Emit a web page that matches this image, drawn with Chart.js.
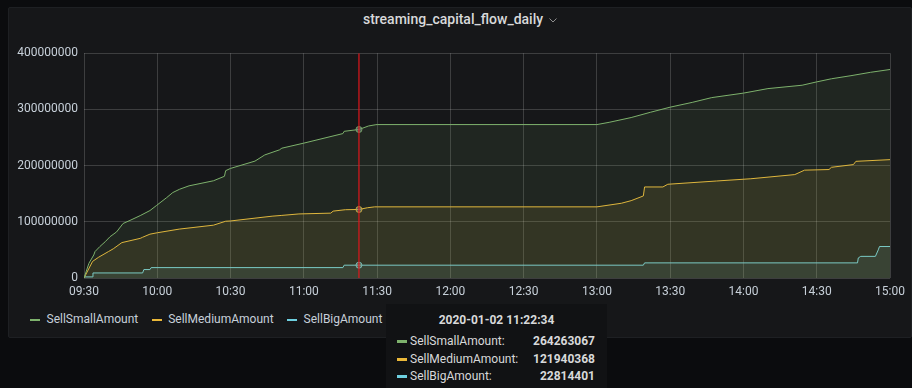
<!DOCTYPE html>
<html>
<head>
<meta charset="utf-8">
<script src="https://cdn.jsdelivr.net/npm/chart.js@4.4.1/dist/chart.umd.min.js"></script>
<style>
  html, body { margin:0; padding:0; background:#0b0c0e; width:912px; height:388px; overflow:hidden; }
  #panel { position:absolute; left:8px; top:7px; width:904px; height:331px; background:#161719; border:1px solid #1e2023; box-sizing:border-box; border-radius:2px; }
  #title { position:absolute; left:8px; width:904px; top:9px; height:20px; display:flex; justify-content:center; align-items:center; color:#d8d9da; font-weight:500; font-size:14px; white-space:nowrap; }
  #title svg { margin-left:6px; margin-top:3px; }
  #chartWrap { position:absolute; left:0; top:40px; width:912px; height:264px; }
  #chartWrap canvas { display:block; }
  #legend { position:absolute; left:30px; top:310px; height:18px; display:flex; align-items:center; color:#c7d0d9; white-space:nowrap; }
  .lg-item { display:flex; align-items:center; margin-right:13.5px; }
  .lg-mark { display:inline-block; width:10px; height:2px; margin-right:6.5px; margin-top:2px; }
  #tooltip { position:absolute; left:386px; top:304px; width:221px; height:92px; background:#111214; color:#d8d9da; box-sizing:border-box; padding-top:8px; display:none; }
  .tt-title { text-align:center; font-weight:bold; line-height:17px; height:17px; margin-bottom:4px; }
  .tt-row { display:flex; align-items:center; line-height:17.5px; height:17.5px; padding:0 12px 0 11px; }
  .tt-mark { display:inline-block; width:10px; height:3px; margin-right:3px; }
  .tt-name { flex:1; }
  .tt-val { font-weight:bold; text-align:right; }
</style>
</head>
<body style="font-family:Roboto, sans-serif; font-size:12px;">
<div id="panel"></div>
<div id="title"><span id="titleText">streaming_capital_flow_daily</span><svg width="8" height="5" viewBox="0 0 8 5"><polyline points="0.5,0.5 4,4 7.5,0.5" fill="none" stroke="#8e8e8e" stroke-width="1"/></svg></div>
<div id="chartWrap"><canvas id="c" width="912" height="264"></canvas></div>
<div id="legend"></div>
<div id="tooltip"></div>
<script>
// ---------------- data ----------------
const tradeDate = '2020-01-02';
const cursorTime = '11:22:34';
const seriesNames = ['SellSmallAmount', 'SellMediumAmount', 'SellBigAmount'];
const xTickLabels = ['09:30','10:00','10:30','11:00','11:30','12:00','12:30','13:00','13:30','14:00','14:30','15:00'];
const yTickLabels = ['0','100000000','200000000','300000000','400000000'];

const smallTimes = ['09:30','09:32','09:34','09:34:30','09:36:30','09:38:40','09:40:40','09:43:20','09:46','09:48:50','09:53','09:57','09:59:40','10:03:50','10:06:20','10:09:10','10:13','10:23','10:27:30','10:28','10:30','10:40','10:44','10:50','10:51','11:00','11:16','11:16:30','11:22:34','11:26:30','11:29:30','11:30','13:00','13:05','13:14','13:22','13:30','13:39','13:47','14:00','14:10','14:24','14:30','14:36','14:44','14:52','15:00'];
const smallValues = [0,26000000,41000000,47000000,56000000,64500000,73500000,82000000,97000000,102500000,111000000,120000000,129000000,143000000,152000000,158000000,164000000,173000000,181000000,191000000,195000000,208000000,219000000,228000000,231000000,240000000,257000000,261000000,264263067,270500000,272800000,273000000,273000000,277000000,285500000,295000000,304000000,312500000,321000000,329000000,337000000,343000000,349000000,354500000,360000000,366000000,371000000];

const mediumTimes = ['09:30','09:33:30','09:36','09:40','09:42','09:45:30','09:53','09:54','09:57','10:00','10:09','10:23','10:28','10:30','10:47','10:51','10:58','11:11','11:12','11:17','11:22:34','11:26','11:29','11:30','13:00','13:10','13:14','13:19','13:19:30','13:27','13:29','13:49','14:03','14:21','14:25','14:35','14:36','14:45','14:46','15:00'];
const mediumValues = [0,29500000,37000000,47000000,52000000,63000000,70500000,72500000,78000000,80500000,87000000,94000000,101000000,101500000,110000000,111400000,114000000,115400000,119000000,121500000,121940368,125000000,126600000,126600000,126600000,133000000,137600000,146000000,162000000,162000000,166800000,172600000,176600000,184000000,191900000,193000000,197000000,201800000,207600000,210600000];

const bigTimes = ['09:30','09:33:20','09:33:40','09:54','09:54:30','09:57','09:57:30','11:16','11:16:30','11:22:34','13:19','13:19:30','14:46:40','14:47','14:48','14:54','14:55:10','14:55:40','15:00'];
const bigValues = [2000000,2000000,9000000,9000000,15000000,15000000,18500000,18500000,22800000,22814401,22814401,26900000,26900000,35700000,38500000,38500000,50000000,56000000,56000000];

const seriesTimes = [smallTimes, mediumTimes, bigTimes];
const seriesValues = [smallValues, mediumValues, bigValues];
const seriesColors = ['#7eb26d', '#eab839', '#6ed0e0'];

// ---------------- helpers ----------------
function toMin(t) {
  const p = t.split(':').map(Number);
  return p[0] * 60 + p[1] + (p[2] || 0) / 60 - 570;
}
function rgba(hex, a) {
  const n = parseInt(hex.slice(1), 16);
  return `rgba(${(n >> 16) & 255},${(n >> 8) & 255},${n & 255},${a})`;
}
const fam = 'Roboto, sans-serif';
const fs = 12;
const textColor = '#c7d0d9';
const gridColor = 'rgba(255,255,255,0.17)';
const yMax = 400000000;

// ---------------- tooltip ----------------
function renderTooltip({ tooltip }) {
  const el = document.getElementById('tooltip');
  if (!tooltip.dataPoints || !tooltip.dataPoints.length) { el.style.display = 'none'; return; }
  let html = `<div class="tt-title">${tradeDate} ${cursorTime}</div>`;
  tooltip.dataPoints.forEach(dp => {
    html += `<div class="tt-row"><span class="tt-mark" style="background:${dp.dataset.borderColor}"></span>` +
            `<span class="tt-name">${dp.dataset.label}:</span><span class="tt-val">${dp.raw.y}</span></div>`;
  });
  el.innerHTML = html;
  el.style.display = 'block';
}

// ---------------- datasets ----------------
const datasets = seriesNames.map((name, i) => ({
  label: name,
  data: seriesTimes[i].map((t, j) => ({ x: toMin(t), y: seriesValues[i][j] })),
  borderColor: seriesColors[i],
  backgroundColor: rgba(seriesColors[i], 0.1),
  fill: 'origin',
  borderWidth: 1,
  pointRadius: 0,
  pointHoverRadius: 3,
  pointHoverBorderWidth: 1,
  pointHoverBorderColor: rgba(seriesColors[i], 0.8),
  pointHoverBackgroundColor: 'rgba(120,130,130,0.6)',
  tension: 0,
  order: 1
}));
// hover cursor line at the selected time
datasets.push({
  label: 'cursor',
  data: [{ x: toMin(cursorTime), y: 0 }, { x: toMin(cursorTime), y: yMax }],
  borderColor: '#e0161c',
  borderWidth: 1.2,
  pointRadius: 0,
  pointHoverRadius: 0,
  fill: false,
  order: 0
});

// ---------------- chart ----------------
const chart = new Chart(document.getElementById('c'), {
  type: 'line',
  data: { datasets },
  options: {
    responsive: false,
    animation: false,
    events: [],
    layout: { padding: { top: 10, right: 19, left: 0, bottom: 0 } },
    plugins: {
      legend: { display: false },
      title: { display: false },
      tooltip: { enabled: false, mode: 'index', intersect: false, external: renderTooltip }
    },
    scales: {
      x: {
        type: 'linear', min: 0, max: 330,
        ticks: { stepSize: 30, autoSkip: false, maxRotation: 0, padding: 7, color: textColor,
                 font: { family: fam, size: fs },
                 callback: v => xTickLabels[Math.round(v / 30)] },
        grid: { color: gridColor, drawTicks: false },
        border: { display: false },
        afterFit: s => { s.height = 26; }
      },
      y: {
        min: 0, max: yMax,
        ticks: { stepSize: 100000000, padding: 6, color: textColor,
                 font: { family: fam, size: fs },
                 callback: v => yTickLabels[Math.round(v / 100000000)] },
        grid: { color: gridColor, drawTicks: false },
        border: { display: false },
        afterFit: s => { s.width = 84; }
      }
    }
  }
});

// legend built from the chart's own legend items (series only)
const legendEl = document.getElementById('legend');
Chart.defaults.plugins.legend.labels.generateLabels(chart)
  .filter(item => item.datasetIndex < seriesNames.length)
  .forEach(item => {
    const d = document.createElement('div');
    d.className = 'lg-item';
    d.innerHTML = `<span class="lg-mark" style="background:${item.strokeStyle}"></span><span>${item.text}</span>`;
    legendEl.appendChild(d);
  });

// activate the hovered time
const active = seriesTimes.map((times, i) => ({ datasetIndex: i, index: times.indexOf(cursorTime) }));
chart.setActiveElements(active);
const px = chart.scales.x.getPixelForValue(toMin(cursorTime));
chart.tooltip.setActiveElements(active, { x: px, y: chart.chartArea.top });
chart.draw();
</script>
</body>
</html>
